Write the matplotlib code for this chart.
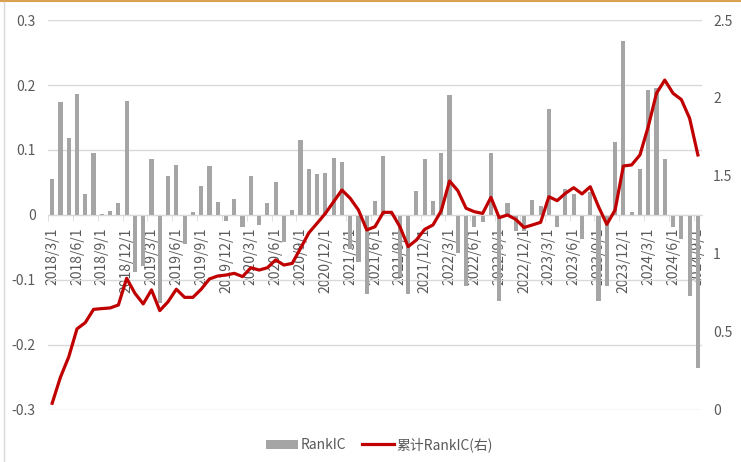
import matplotlib
matplotlib.use('Agg')
import matplotlib.pyplot as plt
from matplotlib.lines import Line2D
import numpy as np
import pandas as pd

plt.rcParams['font.family'] = ['Noto Sans CJK SC', 'DejaVu Sans']

# monthly categories 2018/3 .. 2024/9
months = pd.date_range('2018-03-01', '2024-09-01', freq='MS')
labels = [f'{d.year}/{d.month}/1' for d in months]

# monthly RankIC (left axis)
rank_ic = [0.055, 0.174, 0.118, 0.186, 0.033, 0.096, 0.002, 0.006, 0.018, 0.175,
           -0.088, -0.078, 0.086, -0.135, 0.060, 0.077, -0.045, 0.005, 0.045, 0.075,
           0.020, -0.010, 0.025, -0.019, 0.060, -0.015, 0.018, 0.050, -0.042, 0.008,
           0.115, 0.071, 0.063, 0.064, 0.087, 0.082, -0.052, -0.073, -0.122, 0.021,
           0.090, 0.002, -0.095, -0.122, 0.037, 0.086, 0.022, 0.095, 0.184, -0.059,
           -0.110, -0.019, -0.011, 0.095, -0.132, 0.019, -0.025, -0.025, 0.023, 0.014,
           0.163, -0.018, 0.040, 0.032, -0.037, 0.035, -0.133, -0.109, 0.113, 0.268,
           0.005, 0.070, 0.193, 0.196, 0.086, -0.018, -0.037, -0.124, -0.235]

# cumulative RankIC (right axis)
cum_ic = [0.043, 0.21, 0.34, 0.52, 0.56, 0.645, 0.65, 0.654, 0.673, 0.844,
          0.748, 0.68, 0.77, 0.637, 0.694, 0.774, 0.722, 0.722, 0.774, 0.84,
          0.859, 0.865, 0.876, 0.855, 0.912, 0.897, 0.912, 0.962, 0.929, 0.94,
          1.036, 1.135, 1.197, 1.26, 1.335, 1.41, 1.357, 1.282, 1.154, 1.175,
          1.267, 1.267, 1.175, 1.047, 1.09, 1.158, 1.186, 1.277, 1.468, 1.406,
          1.293, 1.271, 1.26, 1.363, 1.233, 1.25, 1.222, 1.17, 1.186, 1.203,
          1.367, 1.342, 1.389, 1.425, 1.385, 1.431, 1.303, 1.19, 1.282, 1.564,
          1.571, 1.635, 1.816, 2.03, 2.115, 2.03, 1.99, 1.87, 1.635]

left_ticks = [-0.3, -0.2, -0.1, 0, 0.1, 0.2, 0.3]
left_labels = ['-0.3', '-0.2', '-0.1', '0', '0.1', '0.2', '0.3']
right_ticks = [0, 0.5, 1, 1.5, 2, 2.5]
right_labels = ['0', '0.5', '1', '1.5', '2', '2.5']

txt = '#595959'
x = np.arange(len(months))

fig = plt.figure(figsize=(7.41, 4.62), dpi=100)
ax = fig.add_axes([0.0648, 0.1126, 0.8826, 0.8441])
ax2 = ax.twinx()

ax.bar(x, rank_ic, width=0.5, color='#A5A5A5', label='RankIC', zorder=2)
ax2.plot(x, cum_ic, color='#C00000', lw=2.3, label='累计RankIC(右)', zorder=3)

ax.set_xlim(-0.5, len(months) - 0.5)
ax.set_ylim(-0.3, 0.3)
ax2.set_ylim(0, 2.5)

ax.set_yticks(left_ticks)
ax.set_yticklabels(left_labels)
ax2.set_yticks(right_ticks)
ax2.set_yticklabels(right_labels)

ax.set_axisbelow(True)
ax.yaxis.grid(True, color='#D9D9D9', lw=1)

# category labels hang from the zero line
ax.spines['bottom'].set_position(('data', 0))
ax.spines['bottom'].set_color('#D9D9D9')
ax.set_xticks(x[::3])
ax.set_xticklabels(labels[::3], rotation=90, va='top', ha='center')
ax.set_xticks(x[::3] - 0.5, minor=True)
ax.tick_params(axis='x', which='major', length=0, pad=9, colors=txt, labelsize=10)
ax.tick_params(axis='x', which='minor', length=4, color='#D9D9D9')
ax.tick_params(axis='y', length=0, pad=9, colors=txt, labelsize=10)
ax2.tick_params(axis='y', length=0, pad=8, colors=txt, labelsize=10)

for s in ['top', 'left', 'right']:
    ax.spines[s].set_visible(False)
for s in ax2.spines.values():
    s.set_visible(False)

h1, l1 = ax.get_legend_handles_labels()
h2, l2 = ax2.get_legend_handles_labels()
fig.legend(h1 + h2, l1 + l2, loc='center', bbox_to_anchor=(0.512, 0.037),
           ncol=2, frameon=False, fontsize=10, labelcolor=txt,
           handlelength=2.3, handletextpad=0.2, columnspacing=1.1)

# frame remnants of the original screenshot
fig.add_artist(Line2D([0, 1], [0.998, 0.998], color='#D9A050', lw=1.5))
fig.add_artist(Line2D([0.006, 0.006], [0, 0.995], color='#D9D9D9', lw=1))

fig.savefig('out.png', dpi=100)
